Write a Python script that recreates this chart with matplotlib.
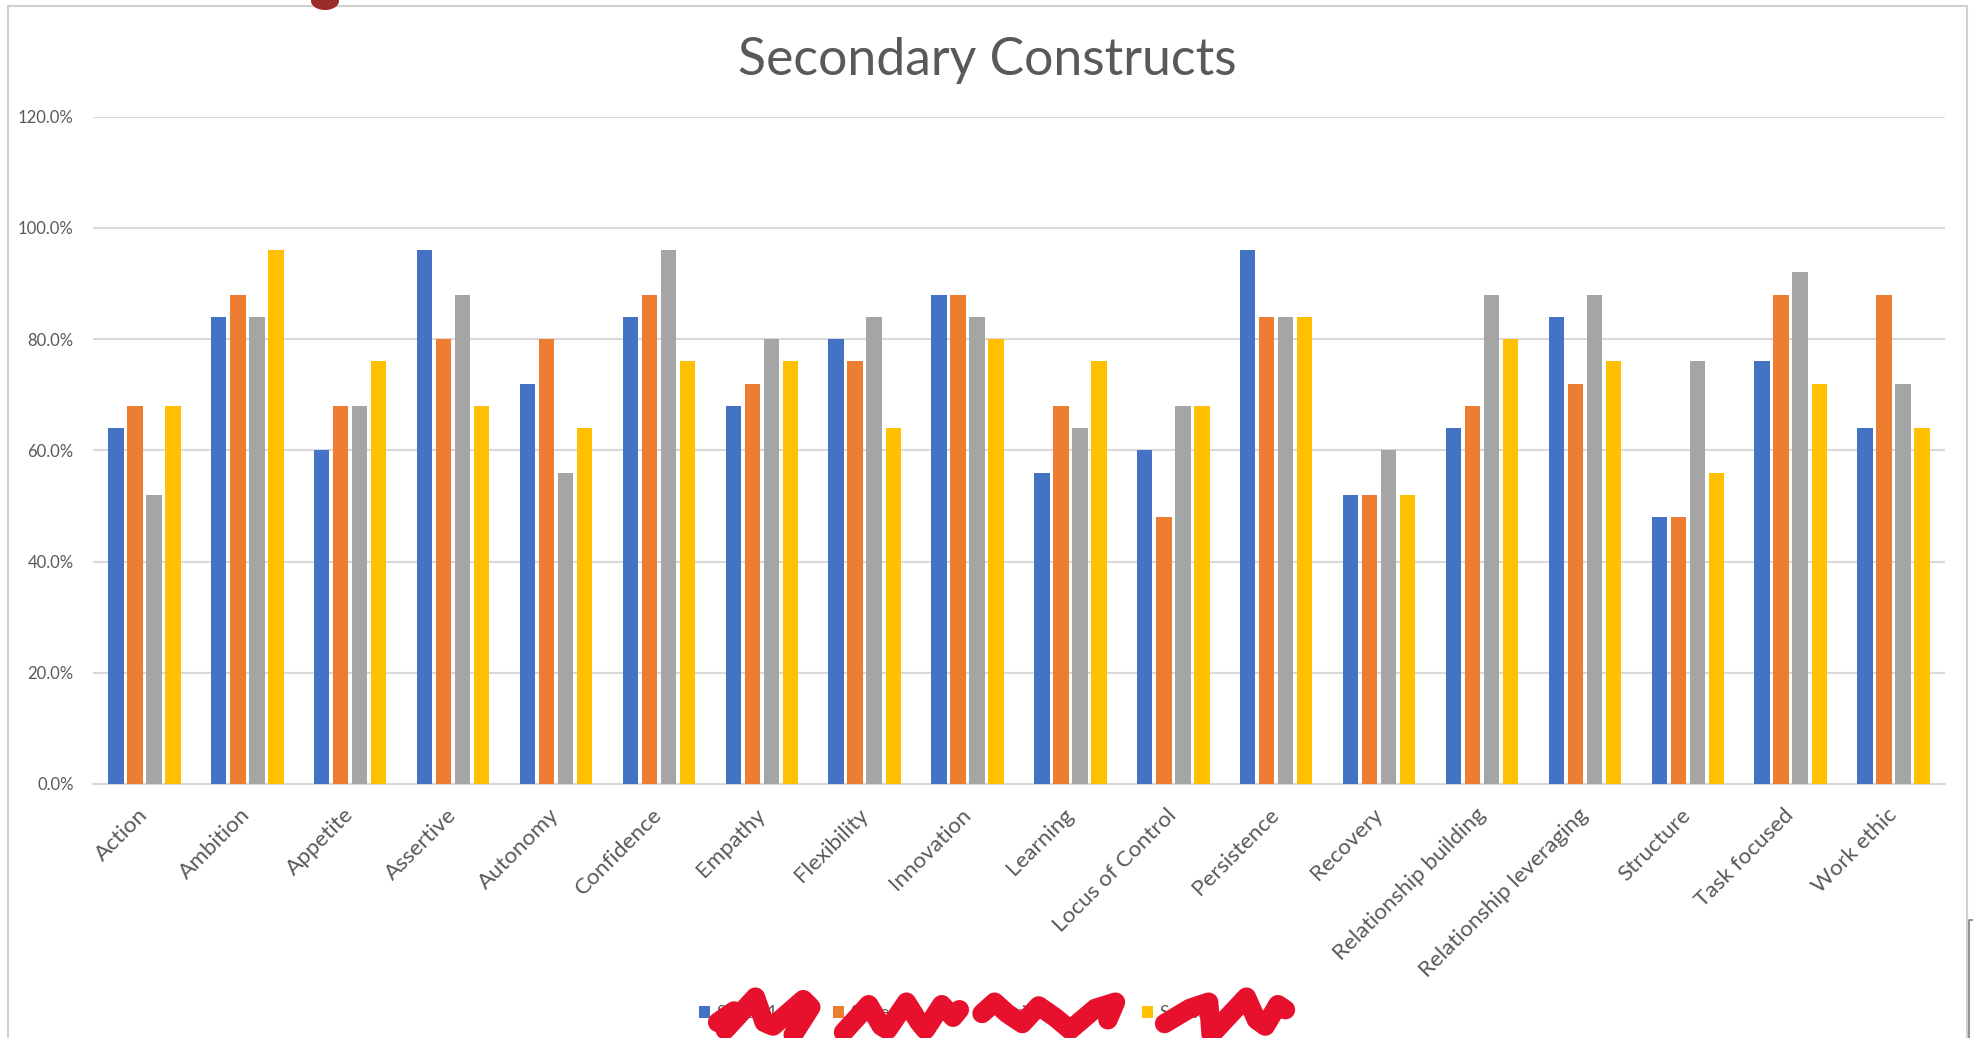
import matplotlib
matplotlib.use("Agg")
import matplotlib.pyplot as plt
import numpy as np
from matplotlib.lines import Line2D
from matplotlib.patches import Rectangle, Ellipse
from matplotlib.ticker import FuncFormatter

plt.rcParams['font.family'] = ['Lato', 'DejaVu Sans']

categories = ["Action", "Ambition", "Appetite", "Assertive", "Autonomy", "Confidence",
              "Empathy", "Flexibility", "Innovation", "Learning", "Locus of Control",
              "Persistence", "Recovery", "Relationship building", "Relationship leveraging",
              "Structure", "Task focused", "Work ethic"]
series_labels = ["Series 1", "Series 2", "Series 3", "Series 4"]
series1 = [64, 84, 60, 96, 72, 84, 68, 80, 88, 56, 60, 96, 52, 64, 84, 48, 76, 64]
series2 = [68, 88, 68, 80, 80, 88, 72, 76, 88, 68, 48, 84, 52, 68, 72, 48, 88, 88]
series3 = [52, 84, 68, 88, 56, 96, 80, 84, 84, 64, 68, 84, 60, 88, 88, 76, 92, 72]
series4 = [68, 96, 76, 68, 64, 76, 76, 64, 80, 76, 68, 84, 52, 80, 76, 56, 72, 64]
colors = ["#4472C4", "#ED7D31", "#A5A5A5", "#FFC000"]
title = "Secondary Constructs"

W, H = 1974, 1038
fig = plt.figure(figsize=(W / 100, H / 100), dpi=100)
fig.patch.set_facecolor("white")

# outer chart frame
fig.add_artist(Rectangle((8 / W, -0.01), (1967 - 8) / W, 1 - 6 / H + 0.01,
                         transform=fig.transFigure, fill=False,
                         edgecolor="#D0D0D0", linewidth=1.5))

ax = fig.add_axes([93 / W, 1 - 784 / H, (1945 - 93) / W, (784 - 116.7) / H])
x = np.arange(len(categories))
pitch = 0.185
width = 0.15
handles = []
for i, (vals, c, lab) in enumerate(zip([series1, series2, series3, series4], colors, series_labels)):
    b = ax.bar(x + (i - 1.5) * pitch, vals, width=width, color=c, label=lab, zorder=3)
    handles.append(b)

ax.set_xlim(-0.5, len(categories) - 0.5)
ax.set_ylim(0, 120)
ax.set_yticks(np.arange(0, 121, 20))
ax.yaxis.set_major_formatter(FuncFormatter(lambda v, p: f"{v:.1f}%"))
ax.grid(axis="y", color="#D9D9D9", linewidth=1.5, zorder=0)
ax.set_axisbelow(True)
for s in ["top", "right", "left"]:
    ax.spines[s].set_visible(False)
ax.spines["bottom"].set_color("#D9D9D9")
ax.spines["bottom"].set_linewidth(1.5)
ax.tick_params(axis="both", length=0, colors="#595959")
ax.tick_params(axis="y", labelsize=12, pad=14)
ax.set_xticks(x)
ax.set_xticklabels(categories, rotation=45, ha="right", va="center",
                   rotation_mode="anchor", fontsize=16.2, color="#595959")
ax.tick_params(axis="x", pad=20)

fig.text(987 / W, 1 - 60 / H, title, ha="center", va="center",
         fontsize=37.3, color="#595959")

# legend entries, one per series, placed at the reference marker positions
legend_x = [699, 833, 979, 1142]
for h, lab, lx in zip(handles, series_labels, legend_x):
    lg = fig.legend([h], [lab], loc="center left", bbox_to_anchor=(lx / W, 1 - 1013 / H),
                    frameon=False, fontsize=12.5, handlelength=0.65, handleheight=0.65,
                    handletextpad=0.4, borderpad=0, borderaxespad=0, labelcolor="#595959")

# red redaction scribbles over the legend labels (pixel coords of the picture)
def scribble(pts):
    pts = np.array(pts, dtype=float) * 1.259
    fig.add_artist(Line2D(pts[:, 0] / W, 1 - pts[:, 1] / H, transform=fig.transFigure,
                          color="#E8112D", linewidth=14, solid_capstyle="round",
                          solid_joinstyle="round", zorder=10))

scribble([(570, 812), (583, 803), (576, 818), (600, 792), (607, 812), (614, 815), (638, 794), (644, 800), (630, 822)])
scribble([(670, 820), (690, 798), (700, 815), (705, 818), (720, 796), (730, 812), (735, 818), (748, 798), (757, 808), (762, 802)])
scribble([(780, 805), (790, 796), (800, 805), (812, 813), (825, 799), (838, 808), (850, 818), (870, 801), (886, 796), (880, 810)])
scribble([(925, 813), (945, 801), (960, 796), (962, 822), (975, 808), (990, 792), (998, 810), (1005, 815), (1015, 798), (1021, 802)])

# dark red fragment at top edge
fig.add_artist(Ellipse((325 / W, 1 - 1 / H), 28 / W, 18 / H, transform=fig.transFigure,
                       facecolor="#9B2B2B", edgecolor="none"))
# small grey mark at right edge
fig.add_artist(Line2D([1974 / W, 1969 / W, 1969 / W], [1 - 920 / H, 1 - 920 / H, 0],
                      transform=fig.transFigure, color="#808080", linewidth=1.2))

fig.savefig("out.png", dpi=100, facecolor="white")
